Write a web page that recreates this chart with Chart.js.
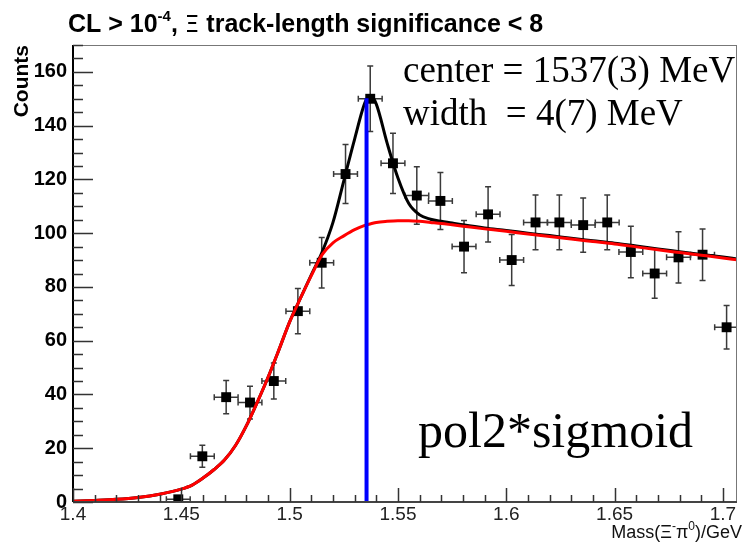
<!DOCTYPE html>
<html>
<head>
<meta charset="utf-8">
<script src="https://cdn.jsdelivr.net/npm/chart.js@4.4.0/dist/chart.umd.min.js"></script>
<style>
    body { margin: 0; background: #ffffff; }
    #wrap { width: 744px; height: 543px; }
</style>
</head>
<body>
<div id="wrap"><canvas id="myChart" width="744" height="543"></canvas></div>
<script>
'use strict';

// Histogram bins (GeV) and counts
var binCenters = [1.4486, 1.4597, 1.4707, 1.4817, 1.4927, 1.5038, 1.5148, 1.5258, 1.5372, 1.5477,
    1.5587, 1.5696, 1.5805, 1.5916, 1.6025, 1.6135, 1.6245, 1.6355, 1.6466, 1.6575,
    1.6685, 1.6795, 1.6906, 1.7017];
var counts = [1, 17, 39, 37, 45, 71, 89, 122, 150, 126,
    114, 112, 95, 107, 90, 104, 104, 103, 104, 93,
    85, 91, 92, 65];
var countErrors = [1, 4.1, 6.2, 6.1, 6.7, 8.4, 9.4, 11, 12.2, 11.2,
    10.7, 10.6, 9.7, 10.3, 9.5, 10.2, 10.2, 10.1, 10.2, 9.6,
    9.2, 9.5, 9.6, 8.1];
var binHalfWidth = 0.0055;

// Fit curves
var fitX = [1.400, 1.410, 1.420, 1.430, 1.440, 1.450, 1.455, 1.460, 1.465, 1.470,
    1.475, 1.480, 1.485, 1.490, 1.495, 1.500, 1.505, 1.510, 1.515, 1.520,
    1.525, 1.530, 1.535, 1.5375, 1.540, 1.545, 1.550, 1.555, 1.560, 1.565,
    1.570, 1.575, 1.580, 1.590, 1.600, 1.610, 1.620, 1.630, 1.640, 1.650,
    1.660, 1.670, 1.680, 1.690, 1.700, 1.7065];
var backgroundFit = [0.3, 0.6, 1.0, 1.7, 2.9, 4.8, 6.3, 8.9, 12.0, 15.7,
    21.0, 28.3, 37.0, 46.3, 56.5, 67.0, 75.8, 84.2, 92.0, 96.4,
    99.0, 101.3, 103.0, 103.5, 104.0, 104.4, 104.6, 104.6, 104.4, 104.0,
    103.6, 103.1, 102.6, 101.6, 100.7, 99.7, 98.8, 97.8, 96.9, 96.0,
    94.9, 93.8, 92.8, 91.8, 90.8, 90.1];
var totalFit = [0.3, 0.6, 1.0, 1.7, 2.9, 4.8, 6.3, 8.9, 12.0, 15.7,
    21.0, 28.3, 37.0, 46.3, 56.5, 67.0, 75.8, 84.5, 93.0, 104.0,
    119.5, 135.0, 149.0, 151.0, 148.0, 133.5, 120.5, 111.0, 106.8, 105.2,
    104.4, 103.8, 103.1, 101.9, 101.0, 100.0, 99.1, 98.1, 97.2, 96.3,
    95.2, 94.1, 93.1, 92.1, 91.1, 90.4];

var peakCenter = 1.5355;
var peakHeight = 150.2;

var xTickValues = [1.4, 1.45, 1.5, 1.55, 1.6, 1.65, 1.7];
var xTickLabels = ['1.4', '1.45', '1.5', '1.55', '1.6', '1.65', '1.7'];
var yTickValues = [0, 20, 40, 60, 80, 100, 120, 140, 160];

function toPoints(xs, ys) {
    var pts = [];
    for (var i = 0; i < xs.length; i++) {
        pts.push({ x: xs[i], y: ys[i] });
    }
    return pts;
}

// Draw a row of text pieces (for superscripts)
function drawRuns(ctx, runs, x, y, alignRight) {
    var total = 0;
    runs.forEach(function (r) {
        ctx.font = r.font;
        total += ctx.measureText(r.text).width;
    });
    var cx = alignRight ? x - total : x;
    ctx.textAlign = 'left';
    ctx.textBaseline = 'alphabetic';
    runs.forEach(function (r) {
        ctx.font = r.font;
        ctx.fillText(r.text, cx, y + (r.dy || 0));
        cx += ctx.measureText(r.text).width;
    });
}

var errorBarPlugin = {
    id: 'errorBars',
    beforeDatasetsDraw: function (chart) {
        var ctx = chart.ctx;
        var xs = chart.scales.x;
        var ys = chart.scales.y;
        var area = chart.chartArea;
        ctx.save();
        ctx.beginPath();
        ctx.rect(area.left, area.top, area.right - area.left, area.bottom - area.top);
        ctx.clip();
        ctx.strokeStyle = '#3a3a3a';
        ctx.lineWidth = 1.5;
        for (var i = 0; i < binCenters.length; i++) {
            var px = xs.getPixelForValue(binCenters[i]);
            var py = ys.getPixelForValue(counts[i]);
            var xl = xs.getPixelForValue(binCenters[i] - binHalfWidth);
            var xr = xs.getPixelForValue(binCenters[i] + binHalfWidth);
            var yt = ys.getPixelForValue(counts[i] + countErrors[i]);
            var yb = ys.getPixelForValue(counts[i] - countErrors[i]);
            ctx.beginPath();
            ctx.moveTo(xl, py); ctx.lineTo(xr, py);
            ctx.moveTo(xl, py - 3); ctx.lineTo(xl, py + 3);
            ctx.moveTo(xr, py - 3); ctx.lineTo(xr, py + 3);
            ctx.moveTo(px, yt); ctx.lineTo(px, yb);
            ctx.moveTo(px - 3, yt); ctx.lineTo(px + 3, yt);
            ctx.moveTo(px - 3, yb); ctx.lineTo(px + 3, yb);
            ctx.stroke();
        }
        ctx.restore();
    }
};

var framePlugin = {
    id: 'rootFrame',
    afterDraw: function (chart) {
        var ctx = chart.ctx;
        var xs = chart.scales.x;
        var ys = chart.scales.y;
        var a = chart.chartArea;
        ctx.save();

        // box
        ctx.strokeStyle = '#777777';
        ctx.lineWidth = 1;
        ctx.strokeRect(a.left + 0.5, a.top + 0.5, a.right - a.left - 1, a.bottom - a.top);

        // axes
        ctx.strokeStyle = '#000000';
        ctx.lineWidth = 2;
        ctx.beginPath();
        ctx.moveTo(a.left, a.top); ctx.lineTo(a.left, a.bottom);
        ctx.stroke();
        ctx.strokeStyle = '#444444';
        ctx.beginPath();
        ctx.moveTo(a.left, a.bottom); ctx.lineTo(a.right, a.bottom);
        ctx.stroke();

        // ticks inside frame
        ctx.strokeStyle = '#333333';
        ctx.lineWidth = 1.5;
        ctx.beginPath();
        for (var v = 0; v <= 170; v += 5) {
            var py = Math.round(ys.getPixelForValue(v)) + 0.5;
            var len = (v % 20 === 0) ? 20 : 10;
            ctx.moveTo(a.left, py); ctx.lineTo(a.left + len, py);
        }
        for (var k = 0; k <= 30; k++) {
            var xv = 1.4 + k * 0.01;
            var px = Math.round(xs.getPixelForValue(xv)) + 0.5;
            var xlen = (k % 5 === 0) ? 14 : 7;
            ctx.moveTo(px, a.bottom); ctx.lineTo(px, a.bottom - xlen);
        }
        ctx.stroke();

        // title
        ctx.fillStyle = '#000000';
        drawRuns(ctx, [
            { text: 'CL > 10', font: 'bold 25px Arial, "Liberation Sans", sans-serif' },
            { text: '-4', font: 'bold 15px Arial, "Liberation Sans", sans-serif', dy: -11 },
            { text: ', ', font: 'bold 25px Arial, "Liberation Sans", sans-serif' },
            { text: 'Ξ', font: '23px "DejaVu Sans", sans-serif' },
            { text: ' track-length significance < 8', font: 'bold 25px Arial, "Liberation Sans", sans-serif' }
        ], 68, 32, false);

        // x axis title
        ctx.fillStyle = '#111111';
        drawRuns(ctx, [
            { text: 'Mass(Ξ', font: '18px Arial, "Liberation Sans", sans-serif' },
            { text: '-', font: '12px Arial, "Liberation Sans", sans-serif', dy: -8 },
            { text: 'π', font: '18px Arial, "Liberation Sans", sans-serif' },
            { text: '0', font: '12px Arial, "Liberation Sans", sans-serif', dy: -8 },
            { text: ')/GeV', font: '18px Arial, "Liberation Sans", sans-serif' }
        ], 742, 538, true);

        // y axis title
        ctx.fillStyle = '#000000';
        ctx.save();
        ctx.translate(28, 45);
        ctx.rotate(-Math.PI / 2);
        ctx.font = 'bold 21px Arial, "Liberation Sans", sans-serif';
        ctx.textAlign = 'right';
        ctx.textBaseline = 'alphabetic';
        ctx.fillText('Counts', 0, 0);
        ctx.restore();

        // fit annotations
        ctx.font = '37px "Liberation Serif", "Times New Roman", serif';
        ctx.textAlign = 'left';
        ctx.fillText('center = 1537(3) MeV', 403, 82);
        ctx.fillText('width  = 4(7) MeV', 403, 125);
        ctx.font = '50px "Liberation Serif", "Times New Roman", serif';
        ctx.fillText('pol2*sigmoid', 418, 447);

        ctx.restore();
    }
};

var chart = new Chart(document.getElementById('myChart'), {
    type: 'line',
    data: {
        datasets: [
            {
                label: 'data',
                data: toPoints(binCenters, counts),
                showLine: false,
                pointStyle: 'rect',
                pointRadius: 7,
                pointBackgroundColor: '#000000',
                pointBorderWidth: 0,
                order: 4
            },
            {
                label: 'total',
                data: toPoints(fitX, totalFit),
                borderColor: '#000000',
                borderWidth: 3,
                pointRadius: 0,
                cubicInterpolationMode: 'monotone',
                order: 3
            },
            {
                label: 'pol2*sigmoid',
                data: toPoints(fitX, backgroundFit),
                borderColor: '#ff0000',
                borderWidth: 3,
                pointRadius: 0,
                cubicInterpolationMode: 'monotone',
                order: 2
            },
            {
                label: 'center',
                data: [{ x: peakCenter, y: 0 }, { x: peakCenter, y: peakHeight }],
                borderColor: '#0000ff',
                borderWidth: 4,
                pointRadius: 0,
                order: 1
            }
        ]
    },
    options: {
        responsive: false,
        animation: false,
        layout: {
            padding: { top: 45, right: 2, left: 0, bottom: 0 }
        },
        plugins: {
            legend: { display: false },
            tooltip: { enabled: false },
            title: { display: false }
        },
        scales: {
            x: {
                type: 'linear',
                min: 1.4,
                max: 1.7065,
                grid: { display: false, drawTicks: false },
                border: { display: false },
                afterBuildTicks: function (scale) {
                    scale.ticks = xTickValues.map(function (v) { return { value: v }; });
                },
                afterFit: function (scale) {
                    scale.height = 41;
                },
                ticks: {
                    padding: 1,
                    maxRotation: 0,
                    autoSkip: false,
                    color: '#222222',
                    font: { family: 'Arial, "Liberation Sans", sans-serif', size: 19 },
                    callback: function (value) {
                        var idx = xTickValues.indexOf(value);
                        return idx >= 0 ? xTickLabels[idx] : '';
                    }
                }
            },
            y: {
                type: 'linear',
                min: 0,
                max: 170,
                grid: { display: false, drawTicks: false },
                border: { display: false },
                afterBuildTicks: function (scale) {
                    scale.ticks = yTickValues.map(function (v) { return { value: v }; });
                },
                afterFit: function (scale) {
                    scale.width = 73;
                },
                ticks: {
                    padding: 6,
                    color: '#000000',
                    font: { family: 'Arial, "Liberation Sans", sans-serif', size: 20, weight: 'bold' }
                }
            }
        }
    },
    plugins: [errorBarPlugin, framePlugin]
});
</script>
</body>
</html>
